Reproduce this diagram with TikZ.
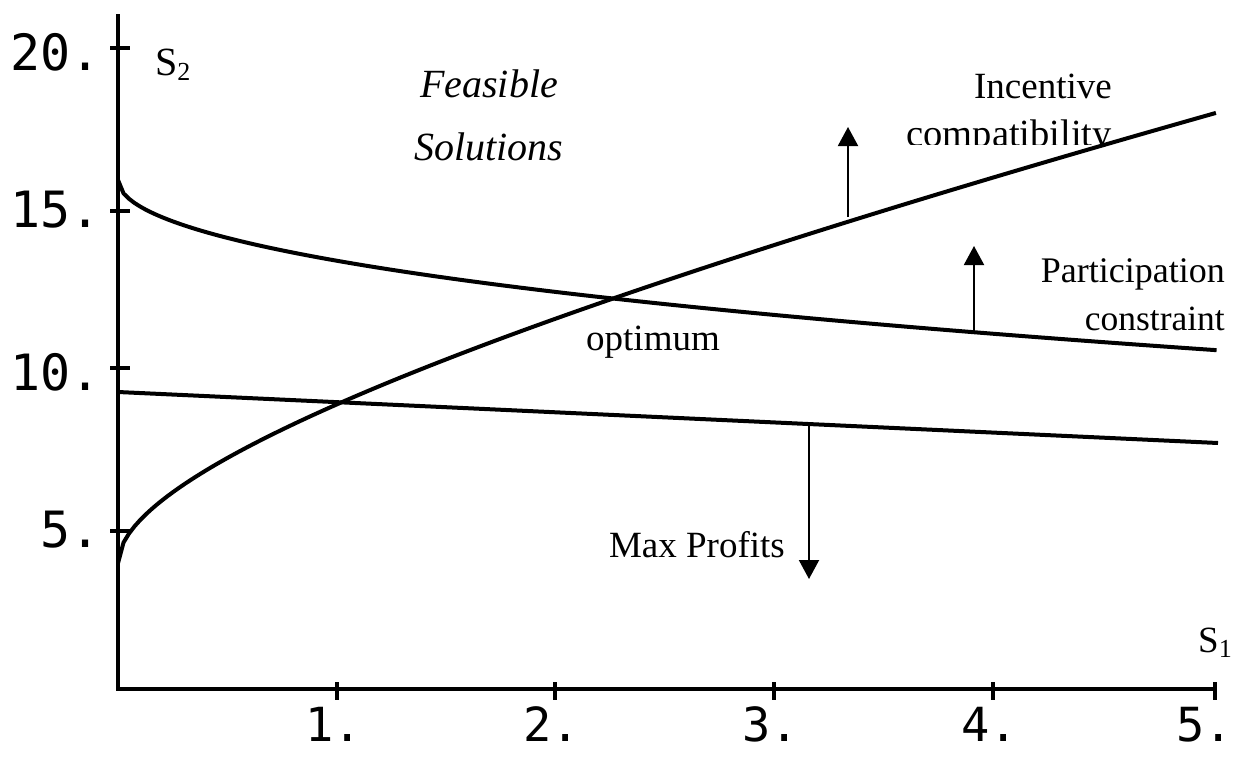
\documentclass[tikz,border=0pt]{standalone}
\usepackage{fontspec}
\setmainfont{Liberation Serif}
\newfontfamily\tickfont{DejaVu Sans Mono}
\usetikzlibrary{arrows.meta}
\newcommand\lowidx[1]{\raisebox{-5pt}{\fontsize{26}{26}\selectfont #1}}
\tikzset{
  axisline/.style={line width=4pt, line join=miter},
  tickmark/.style={line width=4pt},
  curve/.style={line width=4pt, line join=round},
  ticklbl/.style={font=\tickfont\fontsize{50}{50}\selectfont, inner sep=0pt, text depth=0pt},
  xticklbl/.style={font=\tickfont\fontsize{47}{47}\selectfont, inner sep=0pt, text depth=0pt},
  lbl/.style={inner sep=0pt},
  ilbl/.style={font=\itshape\fontsize{40}{48}\selectfont, inner sep=0pt},
  dirarrow/.style={line width=2pt, -{Triangle[width=20pt,length=19pt]}},
}
\begin{document}
\begin{tikzpicture}[x=1pt,y=-1pt]
\useasboundingbox (0,0) rectangle (1235,756);
\fill[white] (0,0) rectangle (1235,756);

% axes
\coordinate (ytop) at (118,14);
\coordinate (xend) at (1217,689);
\draw[axisline] (ytop) |- (xend);

% y ticks and labels
\foreach \yy/\lab/\bl in {48/20./70, 211/15./227, 368/10./390, 531/5./547}{
  \draw[tickmark] (110,\yy) -- (130,\yy);
  \node[ticklbl, anchor=base east] (ylab\yy) at (101,\bl) {\lab};
}
% x ticks and labels
\foreach \xx/\lab/\ex in {337/1./362, 555/2./580, 774/3./799, 993/4./1018, 1215/5./1233}{
  \draw[tickmark] (\xx,682) -- (\xx,700);
  \node[xticklbl, anchor=base east] (xlab\xx) at (\ex,741) {\lab};
}

% curves
% incentive compatibility
\draw[curve] plot[domain=0:5.005, samples=200]
  ({118+219.4*\x}, {692-32.2*(4+3.88*sqrt(\x)+1.06*\x)});
% participation constraint
\draw[curve] plot[domain=0:5.01, samples=200]
  ({118+219.4*\x}, {692-32.2*(15.9-2.63*sqrt(\x)+0.12*\x)});
% max profits
\coordinate (mp0) at (118,392);
\coordinate (mp1) at (1218,443);
\draw[curve] (mp0) -- (mp1);

% direction arrows
\coordinate (icB) at (848,217);
\coordinate (icT) at (848,127);
\draw[dirarrow] (icB) -- (icT);
\coordinate (pcB) at (974,331);
\coordinate (pcT) at (974,246);
\draw[dirarrow] (pcB) -- (pcT);
\coordinate (mpB) at (809,424);
\coordinate (mpT) at (809,579);
\draw[dirarrow] (mpB) -- (mpT);

% labels
\node[lbl, anchor=base west, font=\fontsize{40}{40}\selectfont] (s2) at (155,75) {S\lowidx{2}};
\node[lbl, anchor=base west, font=\fontsize{37}{37}\selectfont] (s1) at (1198,652) {S\lowidx{1}};
\node[ilbl, anchor=base] (feas) at (489,97) {Feasible};
\node[ilbl, anchor=base] (sol) at (489,160) {Solutions};
\node[lbl, anchor=base east, font=\fontsize{37}{37}\selectfont] (inc) at (1112,98) {Incentive};
\begin{scope}
  \clip (880,100) rectangle (1125,144);
  \node[lbl, anchor=base east, font=\fontsize{38.5}{38.5}\selectfont] (comp) at (1112,146) {compatibility};
\end{scope}
\node[lbl, anchor=base east, font=\fontsize{36}{36}\selectfont] (part) at (1225,282) {Participation};
\node[lbl, anchor=base east, font=\fontsize{35.5}{35.5}\selectfont] (cons) at (1225,330) {constraint};
\node[lbl, anchor=base west, font=\fontsize{37}{37}\selectfont] (opt) at (586,350) {optimum};
\node[lbl, anchor=base east, font=\fontsize{37}{37}\selectfont] (maxp) at (785,557) {Max Profits};
\end{tikzpicture}
\end{document}
